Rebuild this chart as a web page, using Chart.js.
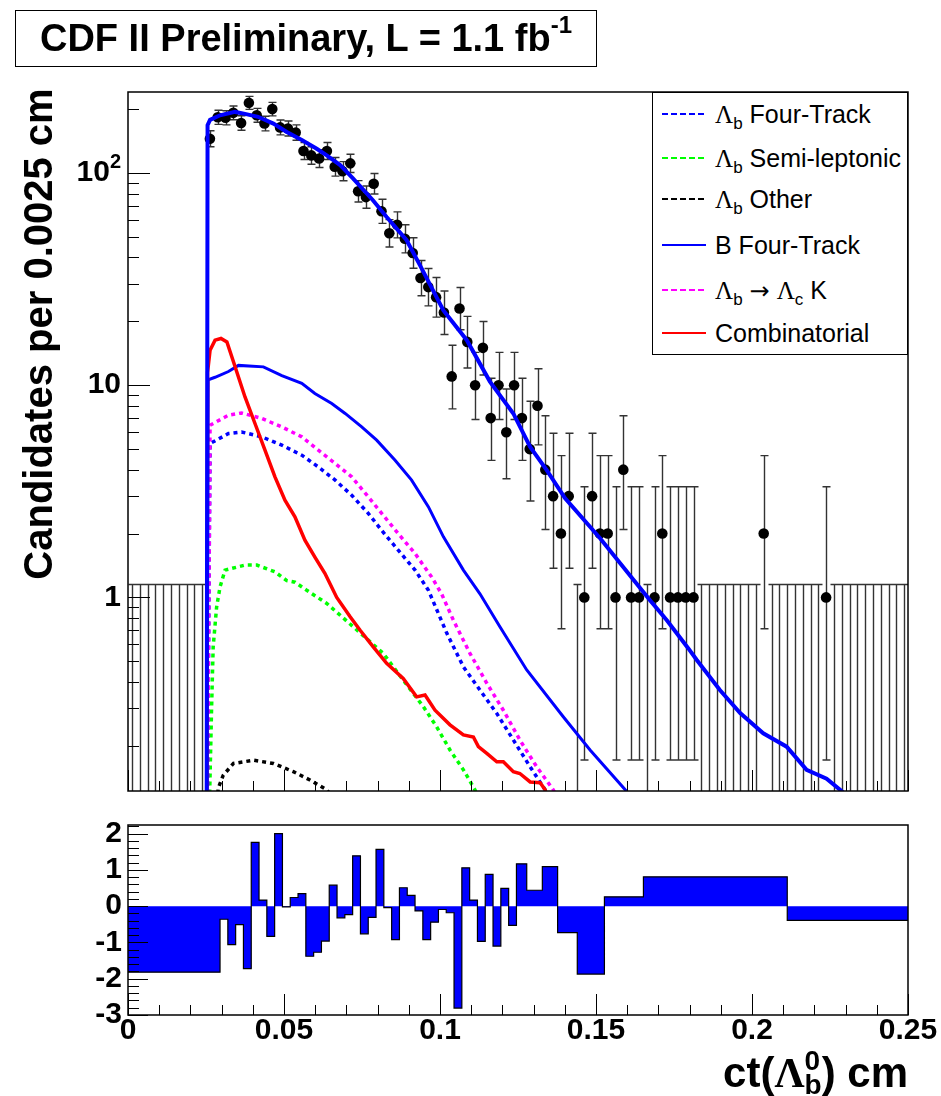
<!DOCTYPE html>
<html>
<head>
<meta charset="utf-8">
<script src="https://cdn.jsdelivr.net/npm/chart.js@4.4.0/dist/chart.umd.min.js"></script>
<style>
  body { margin: 0; background: #fff; width: 941px; height: 1096px; position: relative; overflow: hidden;
         font-family: 'Liberation Sans', Arial, sans-serif; }
  canvas { position: absolute; left: 0; }
  #top { top: 0; }
  #pull { top: 800px; }
  #tag { position: absolute; left: 15px; top: 10px; width: 582px; height: 57px; box-sizing: border-box;
         border: 1.5px solid #000; font-weight: bold; font-size: 38px; display: flex; align-items: center;
         justify-content: center; white-space: nowrap; }
  #tag .sup { font-size: 24px; position: relative; top: -14px; }
  #ytitle { position: absolute; left: -262px; top: 311px; width: 600px; height: 46px; line-height: 46px;
            text-align: center; font-weight: bold; font-size: 40px; transform: rotate(-90deg); white-space: nowrap; }
  #xtitle { position: absolute; right: 33px; top: 1049px; font-weight: bold; font-size: 42px; line-height: 42px;
            white-space: nowrap; }
  #xtitle .lam { font-family: 'Liberation Serif', serif; }
  #xtitle .ss { display: inline-block; vertical-align: -7px; font-size: 28px; line-height: 24px; }
  #xtitle .ss span { display: block; }
  #legend { position: absolute; left: 652px; top: 92px; width: 256px; height: 263px; box-sizing: border-box;
            border: 1.5px solid #000; background: #fff; font-size: 25px; }
  #legend .row { position: absolute; left: 9px; height: 30px; display: flex; align-items: center; white-space: nowrap; }
  #legend svg { width: 44px; height: 4px; margin-right: 9px; }
  #legend .lam { font-family: 'Liberation Serif', serif; }
  #legend .arrow { font-family: 'DejaVu Sans', sans-serif; font-size: 24px; }
  #legend sub { font-size: 17px; vertical-align: -6px; line-height: 0; }
</style>
</head>
<body>
<canvas id="top" width="941" height="800"></canvas>
<canvas id="pull" width="941" height="296"></canvas>

<div id="tag">CDF II Preliminary, L = 1.1 fb<span class="sup">-1</span></div>
<div id="ytitle">Candidates per 0.0025 cm</div>
<div id="xtitle">ct(<span class="lam">Λ</span><span class="ss"><span>0</span><span>b</span></span>) cm</div>

<div id="legend">
  <div class="row" style="top:6px"><svg><line x1="0" y1="2" x2="44" y2="2" stroke="#0000ff" stroke-width="2" stroke-dasharray="6 3"/></svg><span><span class="lam">Λ</span><sub>b</sub> Four-Track</span></div>
  <div class="row" style="top:50px"><svg><line x1="0" y1="2" x2="44" y2="2" stroke="#00ff00" stroke-width="2" stroke-dasharray="6 3"/></svg><span><span class="lam">Λ</span><sub>b</sub> Semi-leptonic</span></div>
  <div class="row" style="top:91px"><svg><line x1="0" y1="2" x2="44" y2="2" stroke="#000" stroke-width="2" stroke-dasharray="6 3"/></svg><span><span class="lam">Λ</span><sub>b</sub> Other</span></div>
  <div class="row" style="top:137px"><svg><line x1="0" y1="2" x2="44" y2="2" stroke="#0000ff" stroke-width="2"/></svg><span>B Four-Track</span></div>
  <div class="row" style="top:182px"><svg><line x1="0" y1="2" x2="44" y2="2" stroke="#ff00ff" stroke-width="2" stroke-dasharray="6 3"/></svg><span><span class="lam">Λ</span><sub>b</sub> <span class="arrow">→</span> <span class="lam">Λ</span><sub>c</sub> K</span></div>
  <div class="row" style="top:225px"><svg><line x1="0" y1="2" x2="44" y2="2" stroke="#ff0000" stroke-width="2"/></svg><span>Combinatorial</span></div>
</div>

<script>
// candidates per 0.0025 cm bin, 0 - 0.25 cm
const binWidth = 0.0025;
const counts = [
  0, 0, 0, 0, 0, 0, 0, 0, 0, 0,
  145, 183, 182, 192, 172, 214, 187, 171, 200, 164,
  162, 155, 127, 121, 117, 127, 107, 102, 111, 82,
  77, 89, 66, 52, 57, 49, 42, 32, 29, 26,
  22, 11, 23, 16, 10, 15, 7, 10, 6, 10,
  7, 5, 8, 4, 3, 2, 3, 0, 1, 3,
  2, 2, 1, 4, 1, 1, 0, 1, 2, 1,
  1, 1, 1, 0, 0, 0, 0, 0, 0, 0,
  0, 2, 0, 0, 0, 0, 0, 0, 0, 1,
  0, 0, 0, 0, 0, 0, 0, 0, 0, 0
];
const zeroUpper = 1.15;

// fit components
const totalCt  = [0.0252, 0.0255, 0.0263, 0.0295, 0.0343, 0.0375, 0.0417, 0.0466, 0.0509, 0.0557, 0.0605, 0.0637, 0.068, 0.0721, 0.0785, 0.0829, 0.0893, 0.0936, 0.1011, 0.1086, 0.116, 0.1235, 0.1289, 0.1342, 0.1401, 0.1513, 0.162, 0.1673, 0.1727, 0.1796, 0.1823, 0.1897, 0.1962, 0.2036, 0.2111, 0.2175, 0.2239, 0.2288, 0.232];
const totalVal = [0.05, 168, 178, 187, 194, 190, 184, 171, 156, 143, 130, 121, 109, 94.4, 74.4, 62, 48.2, 36.7, 22.5, 16.3, 10.4, 7.36, 5.12, 3.98, 2.93, 1.9, 1.21, 0.97, 0.78, 0.575, 0.507, 0.366, 0.285, 0.229, 0.198, 0.154, 0.14, 0.122, 0.11];

const bFourCt  = [0.0253, 0.0257, 0.0279, 0.0322, 0.0354, 0.0434, 0.0493, 0.0557, 0.0599, 0.0653, 0.0696, 0.0749, 0.0797, 0.0856, 0.0909, 0.0963, 0.1011, 0.1075, 0.1128, 0.1192, 0.1278, 0.1395, 0.1481, 0.1598, 0.163];
const bFourVal = [0.05, 10.6, 10.9, 11.6, 12.4, 12.2, 11.1, 10.2, 9.14, 8.2, 7.36, 6.36, 5.51, 4.43, 3.57, 2.67, 1.93, 1.345, 1.04, 0.727, 0.455, 0.274, 0.191, 0.122, 0.11];

const lcKCt  = [0.0253, 0.0263, 0.0322, 0.0364, 0.0429, 0.0493, 0.0557, 0.061, 0.0664, 0.0717, 0.077, 0.0813, 0.0866, 0.092, 0.0973, 0.1005, 0.1043, 0.1096, 0.115, 0.1203, 0.1256, 0.131, 0.1363, 0.138];
const lcKVal = [0.05, 6.48, 7.22, 7.4, 6.97, 6.36, 5.71, 4.94, 4.28, 3.7, 2.98, 2.49, 2.0, 1.61, 1.25, 1.04, 0.78, 0.545, 0.394, 0.294, 0.213, 0.159, 0.124, 0.11];

const lbFourCt  = [0.0253, 0.0263, 0.0322, 0.0364, 0.0429, 0.0493, 0.0557, 0.061, 0.0664, 0.0717, 0.077, 0.0813, 0.0866, 0.092, 0.0963, 0.1022, 0.1075, 0.1128, 0.1182, 0.1235, 0.1289, 0.1337, 0.1355];
const lbFourVal = [0.05, 5.31, 5.92, 6.02, 5.71, 5.22, 4.68, 4.12, 3.57, 3.03, 2.49, 2.07, 1.67, 1.345, 1.08, 0.677, 0.471, 0.366, 0.284, 0.213, 0.159, 0.124, 0.11];

const semiCt  = [0.0256, 0.0268, 0.0273, 0.0284, 0.0295, 0.0311, 0.0375, 0.0413, 0.0471, 0.0509, 0.0535, 0.0573, 0.0637, 0.0722, 0.0818, 0.0882, 0.0947, 0.0989, 0.1032, 0.1075, 0.1112, 0.1125];
const semiVal = [0.05, 0.305, 0.585, 0.9, 1.12, 1.345, 1.42, 1.42, 1.32, 1.2, 1.18, 1.08, 0.937, 0.727, 0.545, 0.408, 0.305, 0.246, 0.191, 0.154, 0.124, 0.11];

const otherCt  = [0.0285, 0.0289, 0.0305, 0.0338, 0.0402, 0.0466, 0.053, 0.0583, 0.0637, 0.0654];
const otherVal = [0.1, 0.126, 0.145, 0.165, 0.171, 0.165, 0.151, 0.138, 0.124, 0.115];

const combCt  = [0.0252, 0.0255, 0.0263, 0.0279, 0.0298, 0.0317, 0.0338, 0.0375, 0.0407, 0.0439, 0.0471, 0.0503, 0.0535, 0.0567, 0.0599, 0.0631, 0.0669, 0.0712, 0.0744, 0.0786, 0.0829, 0.0882, 0.0925, 0.0952, 0.0984, 0.1032, 0.1075, 0.1107, 0.1123, 0.115, 0.1182, 0.1203, 0.1235, 0.1256, 0.1289, 0.1321, 0.1337, 0.1346];
const combVal = [0.05, 11.5, 14.6, 16.3, 16.6, 16.0, 12.9, 8.8, 6.6, 4.94, 3.7, 2.87, 2.4, 1.86, 1.55, 1.3, 1.0, 0.81, 0.7, 0.585, 0.489, 0.415, 0.34, 0.347, 0.294, 0.251, 0.225, 0.22, 0.198, 0.184, 0.168, 0.168, 0.151, 0.148, 0.135, 0.134, 0.124, 0.11];

// residuals, variable bin edges
const pullEdges = [0, 0.0295, 0.032, 0.0345, 0.037, 0.0395, 0.042, 0.0445, 0.047, 0.0495, 0.052, 0.0545, 0.057, 0.0595, 0.062,
  0.0645, 0.067, 0.0695, 0.072, 0.0745, 0.077, 0.0795, 0.082, 0.0845, 0.087, 0.0895, 0.092, 0.0945, 0.097, 0.0995, 0.102,
  0.1045, 0.107, 0.1095, 0.112, 0.1145, 0.117, 0.1195, 0.122, 0.1245, 0.1278, 0.1328, 0.1377, 0.144, 0.1527, 0.1652, 0.2113, 0.25];
const pulls = [-1.82, -0.36, -1.06, -0.51, -1.72, 1.76, 0.17, -0.83, 2.0, -0.02, 0.24, 0.35, -1.38, -1.27, -0.96,
  0.58, -0.32, -0.23, 1.39, -0.76, -0.31, 1.57, -0.04, -0.92, 0.51, 0.30, -0.13, -0.92, -0.44, -0.09,
  -0.18, -2.81, 1.06, 0.17, -0.97, 0.88, -1.10, 0.49, -0.53, 1.17, 0.44, 1.09, -0.73, -1.87, 0.26, 0.81, -0.39];

const pairs = (xs, ys) => xs.map((x, i) => ({ x, y: ys[i] }));
const binCenter = i => (i + 0.5) * binWidth;

// approximate 68% Poisson interval for a bin count
function poissonBand(n) {
  if (n === 0) return [0, zeroUpper];
  const lo = n * Math.pow(1 - 1 / (9 * n) - 1 / (3 * Math.sqrt(n)), 3);
  const hi = n + Math.sqrt(n + 0.75) + 1;
  return [lo, hi];
}

const LABEL_FONT = 'bold 30px "Liberation Sans", Arial, sans-serif';

const errorBars = {
  id: 'errorBars',
  beforeDatasetsDraw(chart) {
    const { ctx, chartArea: a, scales: { x, y } } = chart;
    ctx.save();
    ctx.beginPath();
    ctx.rect(a.left, a.top, a.width, a.height);
    ctx.clip();
    ctx.strokeStyle = '#333';
    ctx.lineWidth = 1.4;
    ctx.beginPath();
    counts.forEach((n, i) => {
      const px = Math.round(x.getPixelForValue(binCenter(i))) + 0.5;
      const [lo, hi] = poissonBand(n);
      const yTop = y.getPixelForValue(hi);
      const yBot = lo > 0 ? y.getPixelForValue(lo) : a.bottom + 5;
      ctx.moveTo(px, yBot);
      ctx.lineTo(px, yTop);
      ctx.moveTo(px - 4, yTop);
      ctx.lineTo(px + 4, yTop);
      if (lo > 0) {
        ctx.moveTo(px - 4, yBot);
        ctx.lineTo(px + 4, yBot);
      }
    });
    ctx.stroke();
    ctx.restore();
  }
};

function drawXTicks(ctx, a, x) {
  for (let k = 0; k <= 25; k++) {
    const px = Math.round(x.getPixelForValue(k / 100)) + 0.5;
    ctx.moveTo(px, a.bottom);
    ctx.lineTo(px, a.bottom - (k % 5 === 0 ? 21 : 10));
  }
}

const upperAxes = {
  id: 'upperAxes',
  afterDatasetsDraw(chart) {
    const { ctx, chartArea: a, scales: { x, y } } = chart;
    ctx.save();
    ctx.strokeStyle = '#000';
    ctx.lineWidth = 1;
    ctx.beginPath();
    for (let d = -1; d <= 2; d++) {
      for (let m = 1; m <= 9; m++) {
        const v = m * Math.pow(10, d);
        if (v < y.min || v > y.max) continue;
        const py = Math.round(y.getPixelForValue(v)) + 0.5;
        ctx.moveTo(a.left, py);
        ctx.lineTo(a.left + (m === 1 ? 22 : 11), py);
      }
    }
    drawXTicks(ctx, a, x);
    ctx.stroke();
    ctx.lineWidth = 1.5;
    ctx.strokeRect(a.left, a.top, a.width, a.height);

    ctx.fillStyle = '#000';
    ctx.font = LABEL_FONT;
    ctx.textAlign = 'right';
    ctx.textBaseline = 'middle';
    const right = a.left - 7;
    ctx.fillText('1', right, y.getPixelForValue(1));
    ctx.fillText('10', right, y.getPixelForValue(10));
    const p100 = y.getPixelForValue(100);
    ctx.font = 'bold 20px "Liberation Sans", Arial, sans-serif';
    const w2 = ctx.measureText('2').width;
    ctx.fillText('2', right, p100 - 11);
    ctx.font = LABEL_FONT;
    ctx.fillText('10', right - w2, p100);
    ctx.restore();
  }
};

const lowerAxes = {
  id: 'lowerAxes',
  afterDatasetsDraw(chart) {
    const { ctx, chartArea: a, scales: { x, y } } = chart;
    ctx.save();
    ctx.strokeStyle = '#000';
    ctx.lineWidth = 1;
    ctx.beginPath();
    for (let k = -15; k <= 11; k++) {
      const py = Math.round(y.getPixelForValue(k / 5)) + 0.5;
      ctx.moveTo(a.left, py);
      ctx.lineTo(a.left + (k % 5 === 0 ? 20 : 11), py);
    }
    drawXTicks(ctx, a, x);
    ctx.stroke();
    ctx.lineWidth = 1.5;
    ctx.strokeRect(a.left, a.top, a.width, a.height);

    ctx.fillStyle = '#000';
    ctx.font = LABEL_FONT;
    ctx.textAlign = 'right';
    ctx.textBaseline = 'middle';
    for (let v = -3; v <= 2; v++) ctx.fillText(String(v), a.left - 6, y.getPixelForValue(v));
    ctx.textAlign = 'center';
    ctx.textBaseline = 'top';
    ['0', '0.05', '0.1', '0.15', '0.2', '0.25'].forEach((t, i) => {
      ctx.fillText(t, x.getPixelForValue(i * 0.05), a.bottom + 1);
    });
    ctx.restore();
  }
};

const curve = (label, xs, ys, color, width, dashed, order) => ({
  label, data: pairs(xs, ys), borderColor: color, borderWidth: width,
  borderDash: dashed ? [4, 4] : [], pointRadius: 0, tension: 0, fill: false, clip: 0, order
});

new Chart(document.getElementById('top'), {
  type: 'line',
  data: {
    datasets: [
      {
        label: 'Data',
        data: counts.map((n, i) => ({ x: binCenter(i), y: n > 0 ? n : null })),
        showLine: false, pointRadius: 5.3, pointBackgroundColor: '#000', pointBorderColor: '#000',
        pointBorderWidth: 0, clip: 0, order: 20
      },
      curve('Λb Other', otherCt, otherVal, '#000000', 3.5, true, 8),
      curve('Λb Semi-leptonic', semiCt, semiVal, '#00ff00', 3.5, true, 7),
      curve('Λb Four-Track', lbFourCt, lbFourVal, '#0000ff', 3.5, true, 6),
      curve('Λb → Λc K', lcKCt, lcKVal, '#ff00ff', 3.5, true, 5),
      curve('B Four-Track', bFourCt, bFourVal, '#0000ff', 3, false, 4),
      curve('Combinatorial', combCt, combVal, '#ff0000', 3.5, false, 3),
      curve('Total', totalCt, totalVal, '#0000ff', 4, false, 1)
    ]
  },
  options: {
    responsive: false,
    animation: false,
    devicePixelRatio: 1,
    layout: { padding: { left: 128, right: 33, top: 92, bottom: 9 } },
    plugins: { legend: { display: false }, tooltip: { enabled: false } },
    scales: {
      x: { type: 'linear', min: 0, max: 0.25, display: false },
      y: { type: 'logarithmic', min: 0.1224, max: 240.8, display: false }
    }
  },
  plugins: [errorBars, upperAxes]
});

// each bar holds its value from its own left edge to the next edge
new Chart(document.getElementById('pull'), {
  type: 'line',
  data: {
    datasets: [{
      label: 'Residual',
      data: pullEdges.map((e, i) => ({ x: e, y: pulls[Math.min(i, pulls.length - 1)] })),
      stepped: 'before', fill: 'origin', backgroundColor: '#0000ff', borderColor: '#000',
      borderWidth: 1.2, pointRadius: 0, clip: 0
    }]
  },
  options: {
    responsive: false,
    animation: false,
    devicePixelRatio: 1,
    layout: { padding: { left: 128, right: 33, top: 25, bottom: 81 } },
    plugins: { legend: { display: false }, tooltip: { enabled: false } },
    scales: {
      x: { type: 'linear', min: 0, max: 0.25, display: false },
      y: { type: 'linear', min: -3, max: 2.24, display: false }
    }
  },
  plugins: [lowerAxes]
});
</script>
</body>
</html>
